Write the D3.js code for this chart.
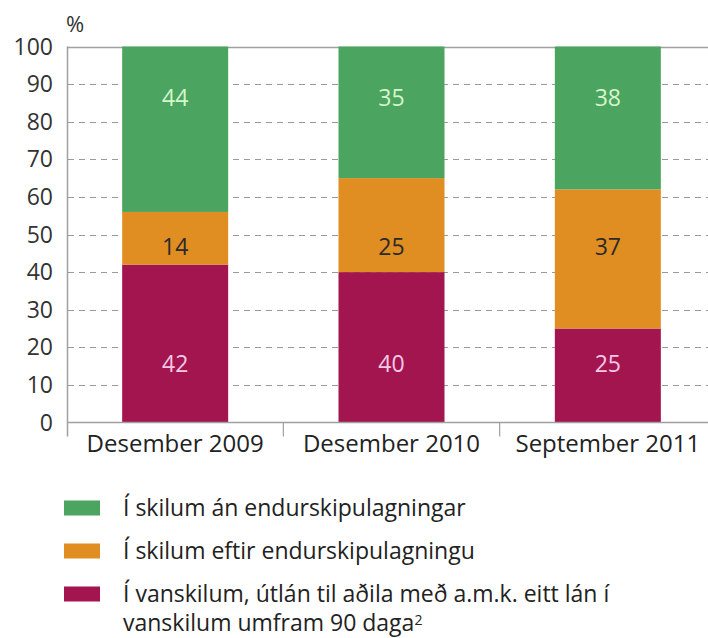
<!DOCTYPE html>
<html>
<head>
<meta charset="utf-8">
<script src="https://cdn.jsdelivr.net/npm/d3@7"></script>
<style>
  body { margin: 0; background: #fff; }
  svg text { font-family: "Open Sans", "Noto Sans", sans-serif; }
</style>
</head>
<body>
<figure id="bar" style="margin:0"></figure>
<script>
const categories = ['Desember 2009', 'Desember 2010', 'September 2011'];
const seriesNames = [
  'Í skilum án endurskipulagningar',
  'Í skilum eftir endurskipulagningu',
  'Í vanskilum, útlán til aðila með a.m.k. eitt lán í'
];
// bottom to top: vanskil, eftir endurskipulagningu, án endurskipulagningar
const vanskil = [42, 40, 25];
const eftir = [14, 25, 37];
const an = [44, 35, 38];
const yTicks = [0, 10, 20, 30, 40, 50, 60, 70, 80, 90, 100];

const width = 708, height = 638;
const plotLeft = 67, plotRight = 716, plotTop = 46.5, plotBottom = 422.5;

const svg = d3.select('figure#bar')
  .append('svg')
  .attr('width', width)
  .attr('height', height);

const x = d3.scaleBand()
  .domain(categories)
  .range([plotLeft, plotRight])
  .paddingInner(0.51)
  .paddingOuter(0.255);

const y = d3.scaleLinear()
  .domain([0, 100])
  .range([plotBottom, plotTop]);

// dashed grid
svg.append('g')
  .selectAll('line')
  .data(yTicks.filter(d => d > 0 && d < 100))
  .enter()
  .append('line')
  .attr('x1', plotLeft + 1)
  .attr('x2', width)
  .attr('y1', d => Math.round(y(d)) + 0.5)
  .attr('y2', d => Math.round(y(d)) + 0.5)
  .attr('stroke', '#9a9a9a')
  .attr('stroke-dasharray', '6,5');

// top line
svg.append('line')
  .attr('x1', plotLeft).attr('x2', width)
  .attr('y1', Math.round(y(100)) + 0.5).attr('y2', Math.round(y(100)) + 0.5)
  .attr('stroke', '#a0a0a0').attr('stroke-width', 1.5);

// stacked data
const rows = categories.map((c, i) => ({ cat: c, vanskil: vanskil[i], eftir: eftir[i], an: an[i] }));
const keys = ['vanskil', 'eftir', 'an'];
const colors = { vanskil: '#a3154f', eftir: '#e08e22', an: '#4ba45f' };
const labelColors = { vanskil: '#f6c8e6', eftir: '#2a2a2a', an: '#d6f6cc' };
const labelLevel = { vanskil: 15.6, eftir: 46.7, an: 86.3 };
const stacked = d3.stack().keys(keys)(rows);

const layers = svg.selectAll('g.layer')
  .data(stacked)
  .enter()
  .append('g')
  .attr('class', 'layer')
  .attr('fill', d => colors[d.key]);

layers.selectAll('rect')
  .data(d => d)
  .enter()
  .append('rect')
  .attr('x', d => x(d.data.cat))
  .attr('y', d => y(d[1]))
  .attr('width', x.bandwidth())
  .attr('height', d => y(d[0]) - y(d[1]));

stacked.forEach(layer => {
  svg.selectAll(null)
    .data(layer)
    .enter()
    .append('text')
    .attr('x', d => x(d.data.cat) + x.bandwidth() / 2)
    .attr('y', y(labelLevel[layer.key]))
    .attr('dy', '0.35em')
    .attr('text-anchor', 'middle')
    .attr('font-size', 23)
    .attr('fill', labelColors[layer.key])
    .text(d => d.data[layer.key]);
});

// axes
const axisColor = '#a0a0a0';
svg.append('line')
  .attr('x1', plotLeft + 0.5).attr('x2', plotLeft + 0.5)
  .attr('y1', plotTop).attr('y2', plotBottom + 14)
  .attr('stroke', axisColor).attr('stroke-width', 1.5);
svg.append('line')
  .attr('x1', plotLeft).attr('x2', width)
  .attr('y1', plotBottom).attr('y2', plotBottom)
  .attr('stroke', axisColor).attr('stroke-width', 1.5);

// category separators
svg.append('g')
  .selectAll('line')
  .data(categories.slice(1))
  .enter()
  .append('line')
  .attr('x1', d => x(d) - x.step() * x.paddingInner() / 2)
  .attr('x2', d => x(d) - x.step() * x.paddingInner() / 2)
  .attr('y1', plotBottom)
  .attr('y2', plotBottom + 14)
  .attr('stroke', axisColor).attr('stroke-width', 1.2);

// y tick labels
svg.append('g')
  .selectAll('text')
  .data(yTicks)
  .enter()
  .append('text')
  .attr('x', 53)
  .attr('y', d => y(d))
  .attr('dy', '0.35em')
  .attr('text-anchor', 'end')
  .attr('font-size', 23)
  .attr('fill', '#333')
  .text(d => d);

svg.append('text')
  .attr('x', 66).attr('y', 32)
  .attr('font-size', 22)
  .attr('fill', '#333')
  .text('%');

// category labels
svg.append('g')
  .selectAll('text')
  .data(categories)
  .enter()
  .append('text')
  .attr('x', d => x(d) + x.bandwidth() / 2)
  .attr('y', 452)
  .attr('text-anchor', 'middle')
  .attr('font-size', 24)
  .attr('fill', '#222')
  .text(d => d);

// legend
const legendKeys = ['an', 'eftir', 'vanskil'];
const legendY = [508, 551, 594];
const legend = svg.append('g');
legendKeys.forEach((k, i) => {
  legend.append('rect')
    .attr('x', 64).attr('y', legendY[i] - 7.5)
    .attr('width', 36).attr('height', 15)
    .attr('fill', colors[k]);
  legend.append('text')
    .attr('x', 123).attr('y', legendY[i])
    .attr('dy', '0.35em')
    .attr('font-family', 'Lato, sans-serif')
    .attr('font-size', 23)
    .attr('fill', '#222')
    .text(seriesNames[i]);
});
const last = legend.append('text')
  .attr('x', 123).attr('y', 623)
  .attr('dy', '0.35em')
  .attr('font-family', 'Lato, sans-serif')
  .attr('font-size', 23)
  .attr('fill', '#222')
  .text('vanskilum umfram 90 daga');
last.append('tspan')
  .attr('dy', '-0.45em')
  .attr('font-size', 14)
  .text('2');
</script>
</body>
</html>
